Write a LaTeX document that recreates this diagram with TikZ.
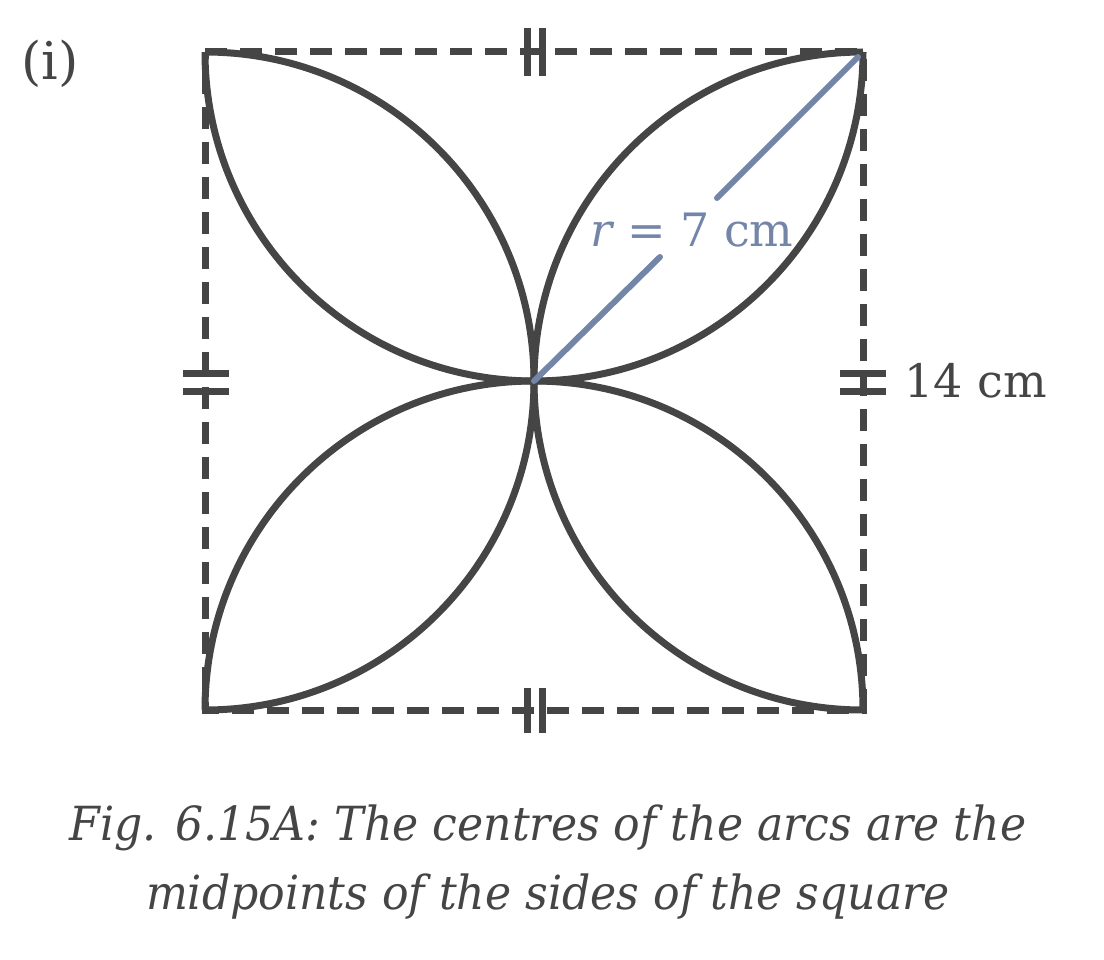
\documentclass[tikz,border=0pt]{standalone}
\usepackage{fontspec}
\setmainfont{DejaVu Serif}
\newfontfamily\capfont[FakeStretch=0.94]{DejaVu Serif}
\definecolor{ink}{HTML}{454545}
\definecolor{rad}{HTML}{7486A8}
\begin{document}
\begin{tikzpicture}[x=1pt,y=-1pt,
  edge/.style={draw=ink,line width=7pt,dash pattern=on 22pt off 13pt},
  arcline/.style={draw=ink,line width=7pt},
  tick/.style={draw=ink,line width=7pt},
  radline/.style={draw=rad,line width=6pt,line cap=round},
  lbl/.style={text=ink,inner sep=0pt,font=\fontsize{46}{56}\selectfont},
  captext/.style={text=ink,inner sep=0pt,align=center,font=\capfont\fontsize{47}{69}\selectfont\itshape}]
\useasboundingbox (0,0) rectangle (1104,960);
\coordinate (TL) at (205,52);
\coordinate (TR) at (863,52);
\coordinate (BR) at (863,710);
\coordinate (BL) at (205,710);
\coordinate (O) at (534,381);
% dashed square
\path[edge] (TL) -- (TR) -- (BR) -- (BL) -- cycle;
% semicircles centred on the midpoints of the sides
\path[arcline] (TL) arc[start angle=180,end angle=0,radius=329];
\path[arcline] (BL) arc[start angle=180,end angle=360,radius=329];
\path[arcline] (TL) arc[start angle=-90,end angle=90,radius=329];
\path[arcline] (TR) arc[start angle=270,end angle=90,radius=329];
% equal-length tick marks
\path[tick] (527,28) -- (527,76) (542,28) -- (542,76);
\path[tick] (527,688) -- (527,733) (542,688) -- (542,733);
\path[tick] (183,373) -- (229,373) (183,391) -- (229,391);
\path[tick] (840,373) -- (886,373) (840,391) -- (886,391);
% radius
\node[lbl,text=rad] (r) at (692,230) {{\itshape r} = 7 cm};
\coordinate (ra) at (660,257);
\coordinate (rb) at (717,198);
\coordinate (rc) at (858,57);
\path[radline] (O) -- (ra) (rb) -- (rc);
% labels
\node[lbl] (side) at (976,381) {14 cm};
\node[lbl,font=\fontsize{52}{60}\selectfont] (num) at (50,64) {(i)};
\node[captext] (caption) at (548,862) {Fig. 6.15A: The centres of the arcs are the\\midpoints of the sides of the square};
\end{tikzpicture}
\end{document}
